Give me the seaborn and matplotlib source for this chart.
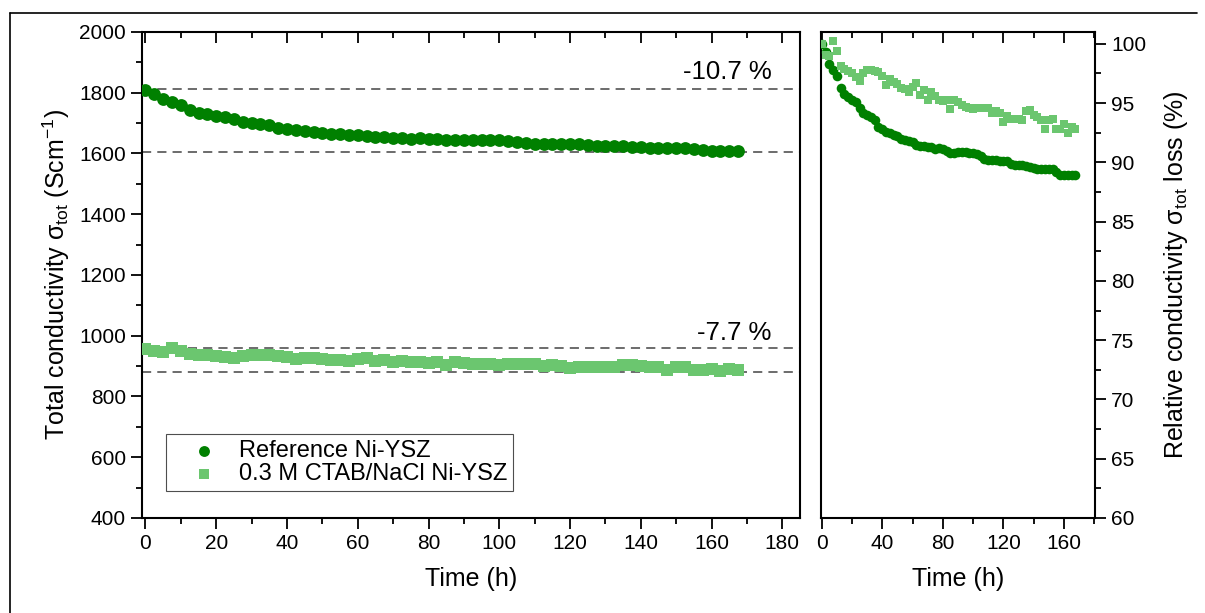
import numpy as np
import pandas as pd
import matplotlib
matplotlib.use("Agg")
import matplotlib.pyplot as plt
from matplotlib.lines import Line2D
from matplotlib.ticker import MultipleLocator
import seaborn as sns

# Zeitpunkte der Messung (h)
time_h = [0, 2.5, 5, 7.5, 10, 12.5, 15, 17.5, 20, 22.5, 25, 27.5, 30, 32.5, 35, 37.5,
          40, 42.5, 45, 47.5, 50, 52.5, 55, 57.5, 60, 62.5, 65, 67.5, 70, 72.5, 75, 77.5,
          80, 82.5, 85, 87.5, 90, 92.5, 95, 97.5, 100, 102.5, 105, 107.5, 110, 112.5, 115,
          117.5, 120, 122.5, 125, 127.5, 130, 132.5, 135, 137.5, 140, 142.5, 145, 147.5,
          150, 152.5, 155, 157.5, 160, 162.5, 165, 167.5]

rel_reference = [100.0, 99.3, 98.3, 97.8, 97.3, 96.3, 95.8, 95.5, 95.3, 95.1, 94.6, 94.2,
                 94.0, 93.8, 93.6, 93.0, 92.8, 92.6, 92.5, 92.3, 92.2, 92.0, 91.9, 91.8,
                 91.7, 91.5, 91.4, 91.4, 91.3, 91.3, 91.1, 91.2, 91.1, 91.0, 90.8, 90.8,
                 90.9, 90.9, 90.9, 90.8, 90.8, 90.7, 90.5, 90.3, 90.2, 90.2, 90.2, 90.1,
                 90.1, 90.1, 89.9, 89.8, 89.8, 89.8, 89.7, 89.6, 89.5, 89.4, 89.4, 89.4,
                 89.4, 89.4, 89.2, 88.95, 88.9, 88.9, 88.9, 88.9]
rel_ctab = [100.0, 99.1, 99.0, 100.2, 99.4, 98.1, 97.9, 97.7, 97.5, 97.2, 96.9, 97.5,
            97.8, 97.8, 97.7, 97.6, 97.3, 96.5, 97.0, 96.8, 96.6, 96.3, 96.2, 95.9,
            96.4, 96.7, 95.7, 96.1, 95.3, 95.9, 95.6, 95.3, 95.2, 95.3, 94.5, 95.3,
            95.1, 94.8, 94.7, 94.6, 94.5, 94.6, 94.6, 94.6, 94.6, 94.2, 94.3, 94.2,
            93.4, 93.9, 93.7, 93.7, 93.7, 93.6, 94.3, 94.4, 94.0, 93.8, 93.6, 92.8,
            93.6, 93.7, 92.8, 92.8, 93.2, 92.5, 93.0, 92.8]

# Anfangswerte der Gesamtleitfaehigkeit (S/cm)
sigma0_reference = 1810
sigma0_ctab = 957

# gestrichelte Hilfslinien und Beschriftungen
ref_lines = [1812, 1605]
ctab_lines = [960, 880]
ref_label = "-10.7 %"
ctab_label = "-7.7 %"

labels = ["Reference Ni-YSZ", "0.3 M CTAB/NaCl Ni-YSZ"]
colors = {"Reference Ni-YSZ": "#008000", "0.3 M CTAB/NaCl Ni-YSZ": "#6BC66F"}
markers = {"Reference Ni-YSZ": "o", "0.3 M CTAB/NaCl Ni-YSZ": "s"}

df = pd.concat([
    pd.DataFrame({"t": time_h, "rel": rel_reference, "sample": labels[0],
                  "sigma": np.array(rel_reference) / 100 * sigma0_reference}),
    pd.DataFrame({"t": time_h, "rel": rel_ctab, "sample": labels[1],
                  "sigma": np.array(rel_ctab) / 100 * sigma0_ctab}),
])

sns.set_style("ticks")
plt.rcParams["font.family"] = ["Liberation Sans", "DejaVu Sans"]
plt.rcParams["mathtext.fontset"] = "custom"
plt.rcParams["mathtext.rm"] = "Liberation Sans"
plt.rcParams["mathtext.it"] = "Liberation Sans:italic"
plt.rcParams["axes.linewidth"] = 1.5
plt.rcParams["axes.edgecolor"] = "black"
plt.rcParams["xtick.color"] = "black"
plt.rcParams["ytick.color"] = "black"
plt.rcParams["text.color"] = "black"
plt.rcParams["axes.labelcolor"] = "black"

fig = plt.figure(figsize=(12.05, 6.13), dpi=100)
ax1 = fig.add_axes([0.1178, 0.1550, 0.5461, 0.7928])
ax2 = fig.add_axes([0.6813, 0.1550, 0.2274, 0.7928])

# 1. Linkes Panel: absolute Leitfaehigkeit
for name, s in [(labels[0], 85), (labels[1], 70)]:
    sub = df[df["sample"] == name]
    sns.scatterplot(data=sub, x="t", y="sigma", ax=ax1, color=colors[name],
                    marker=markers[name], s=s, linewidth=0, label=name, zorder=3)
for yv in ref_lines + ctab_lines:
    ax1.axhline(yv, color="#444444", ls=(0, (6, 4)), lw=1.1, zorder=2)
ax1.text(152, 1868, ref_label, fontsize=18.5, va="center")
ax1.text(156, 1010, ctab_label, fontsize=18.5, va="center")

ax1.set_xlim(-1, 185)
ax1.set_ylim(400, 2000)
ax1.xaxis.set_major_locator(MultipleLocator(20))
ax1.xaxis.set_minor_locator(MultipleLocator(10))
ax1.yaxis.set_major_locator(MultipleLocator(200))
ax1.yaxis.set_minor_locator(MultipleLocator(100))
ax1.tick_params(axis="both", which="major", length=8, width=1.3, labelsize=15,
                direction="out", top=True, right=False)
ax1.tick_params(axis="both", which="minor", length=4.5, width=1.3,
                direction="out", top=True, right=False)
ax1.tick_params(axis="x", which="both", top=True, labeltop=False)
for t in ax1.xaxis.get_ticklines(minor=False)[1::2] + ax1.xaxis.get_ticklines(minor=True)[1::2]:
    t.set_marker(3)
ax1.set_xlabel("Time (h)", fontsize=18)
ax1.set_ylabel("Total conductivity σ$_{\\mathrm{tot}}$ (Scm$^{\\mathrm{-1}}$)", fontsize=18)
ax1.yaxis.set_label_coords(-0.107, 0.5)
ax1.xaxis.set_label_coords(0.5, -0.10)
leg = ax1.legend(loc="lower left", bbox_to_anchor=(0.0365, 0.0556), borderaxespad=0,
                 fontsize=17, frameon=True, fancybox=False, edgecolor="#222222",
                 handletextpad=0.15, borderpad=0.25, labelspacing=0.05, markerscale=0.85,
                 handlelength=2.7)
leg.get_frame().set_linewidth(0.8)

# 2. Rechtes Panel: relative Leitfaehigkeit
for name, s in [(labels[0], 48), (labels[1], 40)]:
    sub = df[df["sample"] == name]
    sns.scatterplot(data=sub, x="t", y="rel", ax=ax2, color=colors[name],
                    marker=markers[name], s=s, linewidth=0, legend=False, zorder=3)
ax2.set_xlim(-0.5, 180.5)
ax2.set_ylim(60, 101)
ax2.xaxis.set_major_locator(MultipleLocator(40))
ax2.xaxis.set_minor_locator(MultipleLocator(20))
ax2.yaxis.set_major_locator(MultipleLocator(5))
ax2.yaxis.set_minor_locator(MultipleLocator(2.5))
ax2.yaxis.tick_right()
ax2.yaxis.set_label_position("right")
ax2.tick_params(axis="both", which="major", length=8, width=1.3, labelsize=15,
                direction="out", left=False, right=True, top=True)
ax2.tick_params(axis="both", which="minor", length=4.5, width=1.3,
                direction="out", left=False, right=True, top=True)
for t in ax2.xaxis.get_ticklines(minor=False)[1::2] + ax2.xaxis.get_ticklines(minor=True)[1::2]:
    t.set_marker(3)
ax2.set_xlabel("Time (h)", fontsize=18)
ax2.set_ylabel("Relative conductivity σ$_{\\mathrm{tot}}$ loss (%)", fontsize=18,
               rotation=90)
ax2.yaxis.set_label_coords(1.245, 0.5)
ax2.xaxis.set_label_coords(0.5, -0.10)

# Rahmen der Tabellenzelle
fig.add_artist(Line2D([10 / 1205, 1197 / 1205], [1 - 13 / 613, 1 - 13 / 613],
                      color="black", lw=1.2))
fig.add_artist(Line2D([10 / 1205, 10 / 1205], [0, 1 - 13 / 613], color="black", lw=1.2))

fig.savefig("out.png", dpi=100)
